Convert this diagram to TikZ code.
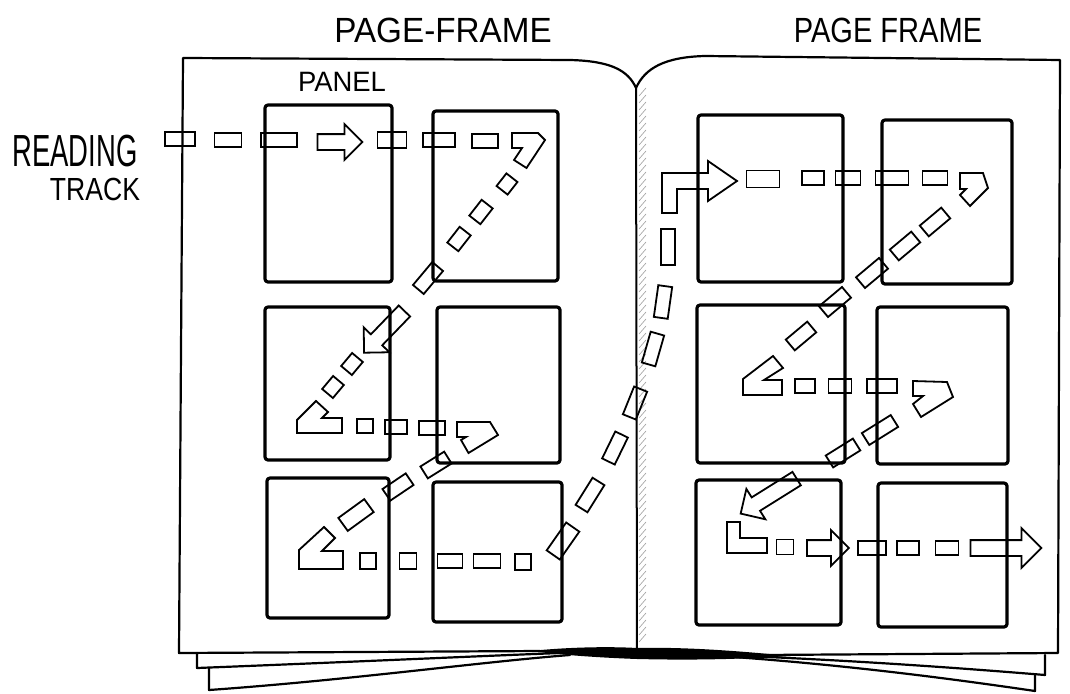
\documentclass[tikz,border=0pt]{standalone}
\usepackage{fontspec}
\setmainfont{Liberation Sans}
\usetikzlibrary{shapes.arrows}
\begin{document}
\begin{tikzpicture}[x=1pt,y=-1pt,
  pg/.style={line width=2.2pt, line cap=round, line join=round},
  pnl/.style={line width=3.2pt, rounded corners=3pt, line join=round},
  seg/.style={draw, line width=1.8pt, inner sep=0pt, minimum width=#1, minimum height=14pt},
  seg/.default=24pt,
  blk/.style={single arrow, draw, line width=1.8pt, inner xsep=0pt, inner ysep=7pt, single arrow head extend=10pt, minimum height=#1},
  crn/.style={draw, line width=1.8pt, line join=miter},
  lbl/.style={inner sep=0pt}
]
\fill[white] (0,0) rectangle (1070,693);
\useasboundingbox (0,0) rectangle (1070,693);

% ---- labels
\node[lbl, font=\fontsize{35}{35}\selectfont, xscale=0.95] (pf1) at (443,30) {PAGE-FRAME};
\node[lbl, font=\fontsize{35}{35}\selectfont, xscale=0.83] (pf2) at (888,30) {PAGE FRAME};
\node[lbl, font=\fontsize{28}{28}\selectfont, xscale=0.98] (pan) at (342,82) {PANEL};
\node[lbl, font=\fontsize{45}{45}\selectfont, xscale=0.61] (rd) at (75,151) {READING};
\node[lbl, font=\fontsize{32}{32}\selectfont, xscale=0.83] (tr) at (95,189) {TRACK};

% ---- book
\foreach \y in {96,103,...,644} \draw[gray!75, line width=0.6pt] (639,\y) -- (646,\y-8);
\draw[pg] (636,88) .. controls (628,70) and (610,61) .. (570,60) -- (183,58) -- (181,350) -- (179,653) -- (540,651);
\draw[pg] (636,88) .. controls (645,68) and (665,57) .. (705,56) -- (1060,60) -- (1058,653) -- (760,655);
\draw[line width=2pt] (636,88) -- (637,655);
\fill (530,651) .. controls (580,646) and (620,647) .. (637,648) .. controls (680,647) and (730,650) .. (790,656)
   .. controls (730,660) and (680,660) .. (637,659) .. controls (610,658) and (570,656) .. (530,651) -- cycle;
\draw[pg] (197,653) -- (197,668) .. controls (350,662) and (480,656) .. (560,653);
\draw[pg] (209,668) -- (209,690) .. controls (350,680) and (480,662) .. (570,655);
\draw[pg] (720,655) .. controls (850,660) and (960,668) .. (1045,675) -- (1045,655);
\draw[pg] (720,656) .. controls (850,665) and (960,680) .. (1035,691) -- (1035,675);

% ---- panels
\draw[pnl] (265,105) rectangle (392,282);
\draw[pnl] (433,111) rectangle (558,281);
\draw[pnl] (265,307) rectangle (390,460);
\draw[pnl] (437,307) rectangle (560,463);
\draw[pnl] (267,478) rectangle (389,618);
\draw[pnl] (433,482) rectangle (562,622);
\draw[pnl] (698,115) rectangle (843,282);
\draw[pnl] (882,120) rectangle (1012,284);
\draw[pnl] (697,305) rectangle (845,463);
\draw[pnl] (877,307) rectangle (1008,464);
\draw[pnl] (696,480) rectangle (841,625);
\draw[pnl] (878,483) rectangle (1007,627);

% ---- reading track: row 1
\node[seg=30pt] (t1) at (180,139) {};
\node[seg=27pt] (t2) at (228,140) {};
\node[seg=36pt] (t3) at (279,140) {};
\node[blk=45pt] (t4) at (336,142) {};
\node[seg=29pt, minimum height=16pt] (t5) at (392,140) {};
\node[seg=32pt] (t6) at (439,140) {};
\node[seg=26pt] (t7) at (485,141) {};
\draw[crn] (512,133) -- (538,133) -- (545,140) -- (526.5,168) -- (514,160) -- (522,148) -- (512,148) -- cycle;
% diagonal 1
\node[seg=16pt, rotate=52] (t8) at (507,184) {};
\node[seg=20pt, rotate=52] (t9) at (481,212) {};
\node[seg=20pt, rotate=52] (t10) at (459,239) {};
\node[seg=30pt, rotate=50] (t11) at (428,278) {};
\node[blk=58pt, rotate=226] (t12) at (387,329) {};
\node[seg=17pt, rotate=50] (t13) at (352,364) {};
\node[seg=17pt, rotate=50] (t14) at (333,387) {};
\draw[crn] (297,420) -- (316,401) -- (328,412) -- (322,418) -- (342,418) -- (342,433) -- (297,433) -- cycle;
% row 2
\node[seg=16pt] (t15) at (365,426) {};
\node[seg=22pt] (t16) at (396,427) {};
\node[seg=26pt] (t17) at (432,428) {};
\draw[crn] (457,422) -- (490,422) -- (498,435) -- (468.5,453) -- (461,440) -- (466,437) -- (457,437) -- cycle;
% diagonal 3
\node[seg=28pt, rotate=32] (t18) at (436,465) {};
\node[seg=28pt, rotate=34] (t19) at (398,487) {};
\node[seg=32pt, minimum height=16pt, rotate=36] (t20) at (356,515) {};
\draw[crn] (299,550) -- (324,527) -- (335,538) -- (322,551) -- (343,551) -- (343,569) -- (299,569) -- cycle;
% row 3
\node[seg=16pt, minimum height=16pt] (t21) at (368,561) {};
\node[seg=17pt, minimum height=16pt] (t22) at (408,561) {};
\node[seg=25pt] (t23) at (450,561) {};
\node[seg=27pt] (t24) at (487,561) {};
\node[seg=16pt, minimum height=16pt] (t25) at (523,562) {};
% diagonal 4 (through the gutter)
\node[seg=34pt, minimum height=16pt, rotate=55] (t26) at (563,541) {};
\node[seg=32pt, rotate=58] (t27) at (590,495) {};
\node[seg=30pt, rotate=64] (t28) at (615,448) {};
\node[seg=30pt, rotate=68] (t29) at (635,403) {};
\node[seg=32pt, rotate=74] (t30) at (653,349) {};
\node[seg=32pt, rotate=82] (t31) at (663,302) {};
\node[seg=36pt, rotate=90] (t32) at (668,247) {};
\draw[crn] (662,213) -- (662,173) -- (708,173) -- (708,161) -- (737,181) -- (708,201) -- (708,189) -- (677,189) -- (677,213) -- cycle;
% row 4
\node[seg=33pt, minimum height=17pt] (t33) at (763,179) {};
\node[seg=22pt] (t34) at (813,178) {};
\node[seg=25pt] (t35) at (848,178) {};
\node[seg=33pt] (t36) at (892,178) {};
\node[seg=25pt] (t37) at (935,178) {};
\draw[crn] (960,173) -- (983,173) -- (988,188) -- (970,206) -- (960,195) -- (966,189) -- (960,189) -- cycle;
% diagonal 5
\node[seg=28pt, rotate=40] (t38) at (935,222) {};
\node[seg=28pt, rotate=40] (t39) at (905,246) {};
\node[seg=30pt, rotate=40] (t40) at (872,273) {};
\node[seg=30pt, rotate=40] (t41) at (835,302) {};
\node[seg=28pt, rotate=40] (t42) at (801,336) {};
\draw[crn] (743,379) -- (773,356) -- (783,368) -- (764,380) -- (782,380) -- (782,395) -- (743,395) -- cycle;
% row 5
\node[seg=20pt] (t43) at (805,386) {};
\node[seg=23pt] (t44) at (840,386) {};
\node[seg=30pt] (t45) at (882,386) {};
\draw[crn] (913,381) -- (947,382) -- (953,397) -- (921,417) -- (913,404) -- (923,396) -- (913,396) -- cycle;
% diagonal 6
\node[seg=34pt, rotate=32] (t46) at (880,430) {};
\node[seg=32pt, rotate=32] (t47) at (843,453) {};
\node[blk=66pt, rotate=212] (t48) at (772,494) {};
\draw[crn] (727,522) -- (740,522) -- (740,538) -- (767,538) -- (767,553) -- (727,553) -- cycle;
% row 6
\node[seg=17pt, minimum height=15pt] (t49) at (785,547) {};
\node[blk=42pt] (t50) at (824,548) {};
\node[seg=28pt] (t51) at (872,548) {};
\node[seg=22pt] (t52) at (908,548) {};
\node[seg=23pt] (t53) at (947,548) {};
\node[blk=71pt, single arrow head extend=12pt] (t54) at (1002,548) {};
\end{tikzpicture}
\end{document}
